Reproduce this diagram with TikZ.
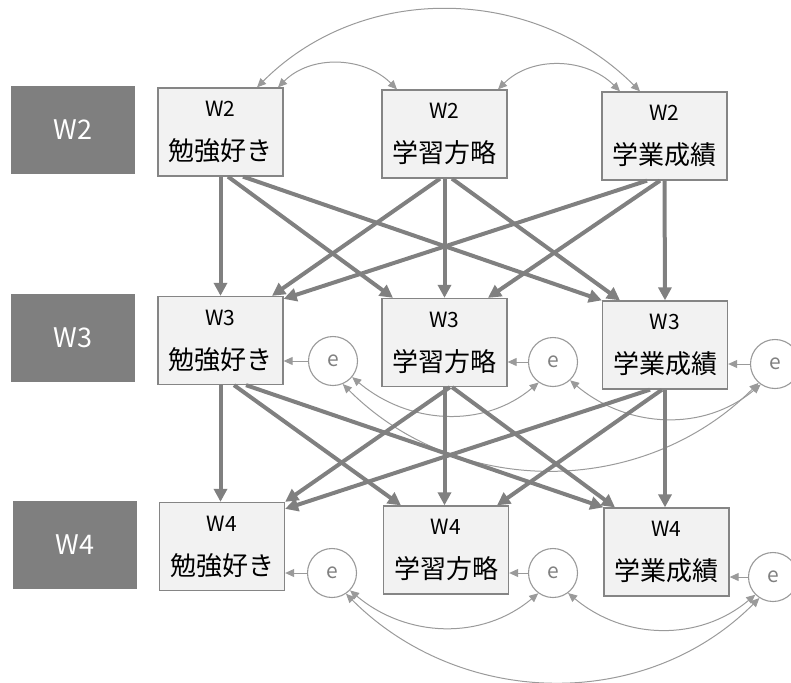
\documentclass[tikz,border=0pt]{standalone}
\usepackage{fontspec}
\setmainfont{Noto Sans CJK JP}
\usetikzlibrary{arrows.meta}
\definecolor{labelgray}{HTML}{7F7F7F}
\definecolor{boxfill}{HTML}{F2F2F2}
\definecolor{boxline}{HTML}{858585}
\definecolor{linegray}{HTML}{808080}
\definecolor{thingray}{HTML}{9A9A9A}
\definecolor{circgray}{HTML}{999999}
\definecolor{etext}{HTML}{808080}
\newcommand{\kanjisize}{\fontsize{26}{44}\selectfont}
\begin{document}
\begin{tikzpicture}[x=1pt,y=-1pt,
  wave/.style={fill=labelgray, text=white, minimum width=124pt, minimum height=88pt, inner sep=0pt, font=\fontsize{27}{30}\selectfont},
  var/.style={draw=boxline, fill=boxfill, line width=1.3pt, minimum width=125pt, minimum height=88pt, inner sep=0pt, align=center, font=\fontsize{21}{44}\selectfont},
  err/.style={circle, draw=circgray, line width=1.1pt, minimum size=49pt, inner sep=0pt, text=etext, font=\fontsize{21}{24}\selectfont},
  regpath/.style={draw=linegray, line width=4pt, -{Triangle[length=13pt,width=13pt]}},
  cov/.style={draw=thingray, line width=1pt, {Triangle[length=9pt,width=8pt]}-{Triangle[length=9pt,width=8pt]}},
  res/.style={draw=thingray, line width=1pt, -{Triangle[length=9pt,width=8pt]}}
]
\useasboundingbox (0,0) rectangle (791,682);

% wave labels
\node[wave] (L2) at (73,130) {W2};
\node[wave] (L3) at (73,338) {W3};
\node[wave] (L4) at (75,545) {W4};

% observed variables
\node[var] (A2) at (220.5,132) {W2\\{\kanjisize 勉強好き}};
\node[var] (B2) at (444.5,134) {W2\\{\kanjisize 学習方略}};
\node[var] (C2) at (664.5,136) {W2\\{\kanjisize 学業成績}};
\node[var] (A3) at (220.5,340.5) {W3\\{\kanjisize 勉強好き}};
\node[var] (B3) at (444.5,342.5) {W3\\{\kanjisize 学習方略}};
\node[var] (C3) at (665,345) {W3\\{\kanjisize 学業成績}};
\node[var] (A4) at (222,546.5) {W4\\{\kanjisize 勉強好き}};
\node[var] (B4) at (446,550) {W4\\{\kanjisize 学習方略}};
\node[var] (C4) at (666.5,552) {W4\\{\kanjisize 学業成績}};

% errors
\node[err] (E3a) at (333,361) {e};
\node[err] (E3b) at (553,362) {e};
\node[err] (E3c) at (775,364) {e};
\node[err] (E4a) at (332,573) {e};
\node[err] (E4b) at (553,573) {e};
\node[err] (E4c) at (773,577) {e};

% W2 covariances
\draw[cov] ([xshift=57.5pt]A2.north) to[out=45,in=135] ([xshift=-47.5pt]B2.north);
\draw[cov] ([xshift=53.5pt]B2.north) to[out=45,in=135] ([xshift=-44.5pt]C2.north);
\draw[cov] ([xshift=36.5pt]A2.north) to[out=45,in=135] ([xshift=-24.5pt]C2.north);

% residual arrows
\draw[res] (E3a) -- (E3a -| A3.east);
\draw[res] (E3b) -- (E3b -| B3.east);
\draw[res] (E3c) -- (E3c -| C3.east);
\draw[res] (E4a) -- (E4a -| A4.east);
\draw[res] (E4b) -- (E4b -| B4.east);
\draw[res] (E4c) -- (E4c -| C4.east);

% residual covariances
\draw[cov] (E3a.-40) to[out=-40,in=-140] (E3b.-125);
\draw[cov] (E3b.-47) to[out=-40,in=-140] (E3c.-125);
\draw[cov] (E3a.-67) to[out=-45,in=-135] (E3c.-131);
\draw[cov] (E4a.-44) to[out=-40,in=-140] (E4b.-126);
\draw[cov] (E4b.-53) to[out=-40,in=-140] (E4c.-135);
\draw[cov] (E4a.-56) to[out=-45,in=-135] (E4c.-123);

% W2 -> W3
\draw[regpath] (A2.south) -- (A3.north);
\draw[regpath] ([xshift=7.5pt]A2.south) -- ([xshift=-51.5pt]B3.north);
\draw[regpath] ([xshift=22.5pt]A2.south) -- (C3.north west);
\draw[regpath] ([xshift=-4.5pt]B2.south) -- ([xshift=51.5pt]A3.north);
\draw[regpath] (B2.south) -- (B3.north);
\draw[regpath] ([xshift=7.5pt]B2.south) -- ([xshift=-45pt]C3.north);
\draw[regpath] ([xshift=-17.5pt]C2.south) -- ([yshift=-3pt]A3.north east);
\draw[regpath] ([xshift=-4.5pt]C2.south) -- ([xshift=43.5pt]B3.north);
\draw[regpath] (C2.south) -- (C3.north);

% W3 -> W4
\draw[regpath] (A3.south) -- (A3.south |- A4.north);
\draw[regpath] ([xshift=13.5pt]A3.south) -- ([xshift=-45pt]B4.north);
\draw[regpath] ([xshift=25.5pt]A3.south) -- (C4.north west);
\draw[regpath] ([xshift=5.5pt]B3.south) -- (A4.north east);
\draw[regpath] (B3.south) -- (B3.south |- B4.north);
\draw[regpath] ([xshift=7.5pt]B3.south) -- ([xshift=-51.5pt]C4.north);
\draw[regpath] ([xshift=-15pt]C3.south) -- ([yshift=-7pt]A4.north east);
\draw[regpath] ([xshift=-3pt]C3.south) -- ([xshift=51pt]B4.north);
\draw[regpath] (C3.south) -- (C3.south |- C4.north);
\end{tikzpicture}
\end{document}
